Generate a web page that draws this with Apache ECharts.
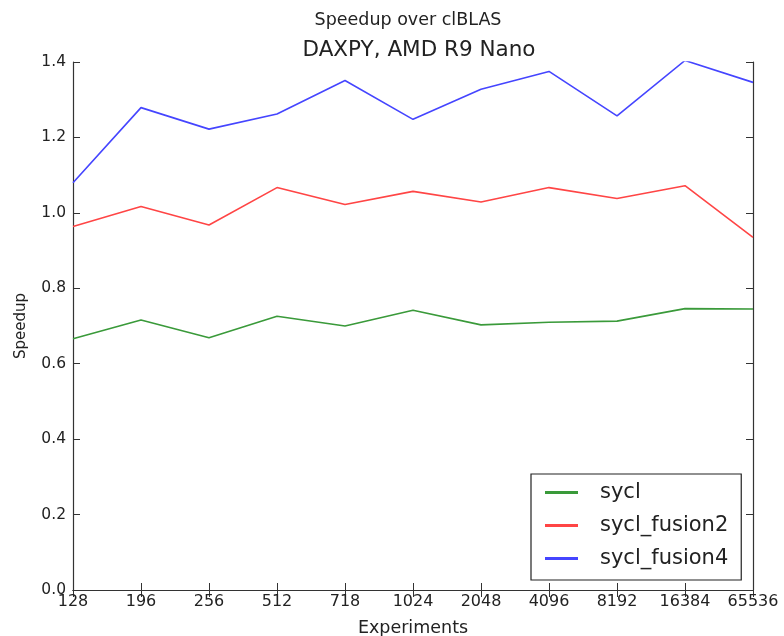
<!DOCTYPE html>
<html>
<head>
<meta charset="utf-8">
<script src="https://cdn.jsdelivr.net/npm/echarts@6/dist/echarts.min.js"></script>
<style>html,body{margin:0;padding:0;background:#fff}#c{width:784px;height:636px}</style>
</head>
<body>
<div id="c"></div>
<script>
const categories = ['128','196','256','512','718','1024','2048','4096','8192','16384','65536'];
const sycl = [0.666,0.716,0.669,0.726,0.700,0.742,0.703,0.710,0.713,0.746,0.745];
const sycl_fusion2 = [0.964,1.017,0.968,1.067,1.022,1.057,1.029,1.067,1.038,1.072,0.935];
const sycl_fusion4 = [1.080,1.279,1.222,1.262,1.351,1.248,1.328,1.375,1.257,1.404,1.346];
const seriesNames = ['sycl','sycl_fusion2','sycl_fusion4'];
const colors = ['#3a9a3a','#ff4545','#4545ff'];
const FONT = 'DejaVu Sans';

const chart = echarts.init(document.getElementById('c'));
const axisLineStyle = {color:'#333', width:1.2};
chart.setOption({
  animation:false,
  backgroundColor:'#fff',
  title:[
    {text:'Speedup over clBLAS', left:403, top:6, textAlign:'center', textStyle:{fontFamily:FONT, fontSize:17.5, fontWeight:'normal', color:'#222'}},
    {text:'DAXPY, AMD R9 Nano', left:414, top:34, textAlign:'center', textStyle:{fontFamily:FONT, fontSize:21.5, fontWeight:'normal', color:'#222'}}
  ],
  grid:{left:73, right:31, top:62, bottom:46, show:false, containLabel:false, outerBoundsMode:'none'},
  legend:{
    orient:'vertical', left:531, top:474,
    data:seriesNames,
    itemWidth:33, itemHeight:3, itemGap:12,
    icon:'rect',
    padding:[8,13,11,14],
    borderColor:'#222', borderWidth:1.2, borderRadius:0,
    textStyle:{fontFamily:FONT, fontSize:21, color:'#222', padding:[0,0,0,17]}
  },
  xAxis:[
    {type:'category', data:categories, boundaryGap:false, position:'bottom',
     name:'Experiments', nameLocation:'middle', nameGap:29,
     nameTextStyle:{fontFamily:FONT, fontSize:17.5, color:'#222'},
     axisLine:{lineStyle:axisLineStyle},
     axisTick:{inside:true, length:7, lineStyle:{color:'#333'}},
     axisLabel:{fontFamily:FONT, fontSize:16, color:'#222', margin:4},
     splitLine:{show:false}},
    {type:'category', data:categories, boundaryGap:false, position:'top',
     axisLine:{lineStyle:axisLineStyle},
     axisTick:{inside:true, length:7, lineStyle:{color:'#333'}},
     axisLabel:{show:false}, splitLine:{show:false}}
  ],
  yAxis:[
    {type:'value', min:0, max:1.4, interval:0.2, position:'left',
     name:'Speedup', nameLocation:'middle', nameGap:44, nameRotate:90,
     nameTextStyle:{fontFamily:FONT, fontSize:15, color:'#222'},
     axisLine:{show:true, lineStyle:axisLineStyle},
     axisTick:{show:true, inside:true, length:7, lineStyle:{color:'#333'}},
     axisLabel:{fontFamily:FONT, fontSize:15.5, color:'#222', margin:7, formatter:v=>v.toFixed(1)},
     splitLine:{show:false}},
    {type:'value', min:0, max:1.4, interval:0.2, position:'right',
     axisLine:{show:true, lineStyle:axisLineStyle},
     axisTick:{show:true, inside:true, length:7, lineStyle:{color:'#333'}},
     axisLabel:{show:false}, splitLine:{show:false}}
  ],
  series:[sycl, sycl_fusion2, sycl_fusion4].map((d,i)=>({
    name:seriesNames[i], type:'line', data:d, showSymbol:false, symbol:'none',
    lineStyle:{color:colors[i], width:1.6}, itemStyle:{color:colors[i]}
  }))
});
</script>
</body>
</html>
